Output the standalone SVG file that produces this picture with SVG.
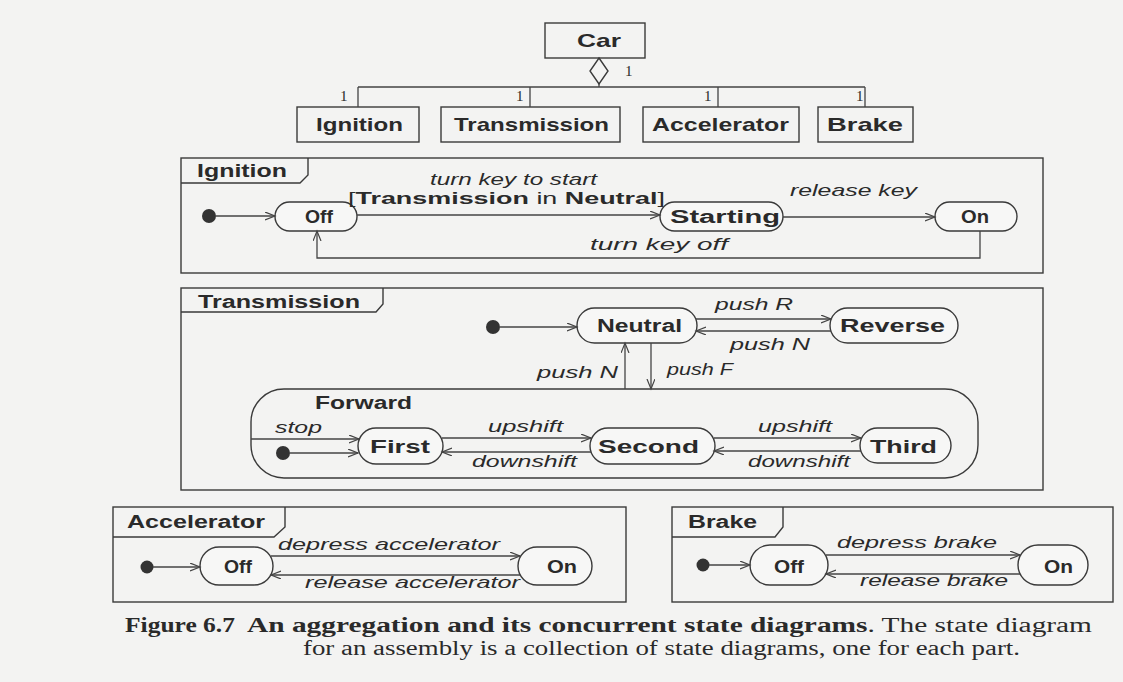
<svg xmlns="http://www.w3.org/2000/svg" width="1123" height="682" viewBox="0 0 1123 682">
<style>
.bg{fill:#f3f3f2}
.box{fill:none;stroke:#3a3a3a;stroke-width:1.4}
.st{fill:#f7f7f6;stroke:#3a3a3a;stroke-width:1.4}
.ln{fill:none;stroke:#444;stroke-width:1.3}
.dot{fill:#333}
.nm{font-family:"Liberation Sans",Arial,sans-serif;font-weight:bold;font-size:18px;fill:#2a2a2a}
.cls{font-family:"Liberation Sans",Arial,sans-serif;font-weight:bold;font-size:19px;fill:#2a2a2a}
.lb{font-family:"Liberation Sans",Arial,sans-serif;font-style:italic;font-size:17px;fill:#2a2a2a}
.gd{font-family:"Liberation Sans",Arial,sans-serif;font-size:17px;fill:#2a2a2a}
.one{font-family:"Liberation Serif","Times New Roman",serif;font-size:15px;fill:#2a2a2a}
.cap{font-family:"Liberation Serif","Times New Roman",serif;font-size:20px;fill:#2a2a2a}
</style>
<defs>
<marker id="ar" markerUnits="userSpaceOnUse" markerWidth="12" markerHeight="10" refX="10" refY="4" orient="auto">
<path d="M0,0 L10,4 L0,8" fill="none" stroke="#444" stroke-width="1.2"/>
</marker>
</defs>
<rect class="bg" x="0" y="0" width="1123" height="682"/>

<!-- Class diagram -->
<g id="car">
<rect class="box" x="545" y="23" width="100" height="35"/>
<text class="cls" x="577" y="47" textLength="44" lengthAdjust="spacingAndGlyphs">Car</text>
</g>
<g id="cls-ignition">
<rect class="box" x="297" y="107" width="122" height="35"/>
<text class="cls" x="316" y="131" textLength="87" lengthAdjust="spacingAndGlyphs">Ignition</text>
</g>
<g id="cls-transmission">
<rect class="box" x="441" y="107" width="179" height="35"/>
<text class="cls" x="454" y="131" textLength="155" lengthAdjust="spacingAndGlyphs">Transmission</text>
</g>
<g id="cls-accelerator">
<rect class="box" x="643" y="107" width="156" height="35"/>
<text class="cls" x="652" y="131" textLength="137" lengthAdjust="spacingAndGlyphs">Accelerator</text>
</g>
<g id="cls-brake">
<rect class="box" x="818" y="107" width="95" height="35"/>
<text class="cls" x="827" y="131" textLength="76" lengthAdjust="spacingAndGlyphs">Brake</text>
</g>

<!-- Ignition state diagram -->
<g id="ignition-frame">
<rect class="box" x="181" y="158" width="862" height="115"/>
<path class="box" d="M181,183 H300 L308,175 V158"/>
<text class="nm" x="197" y="177" textLength="90" lengthAdjust="spacingAndGlyphs">Ignition</text>
</g>
<g id="ign-init"><circle class="dot" cx="209" cy="216" r="7"/></g>
<g id="ign-off">
<rect class="st" x="275" y="202" width="82" height="29" rx="14.5"/>
<text class="nm" x="305" y="223" textLength="28" lengthAdjust="spacingAndGlyphs">Off</text>
</g>
<g id="ign-starting">
<rect class="st" x="660" y="202" width="123" height="29" rx="14.5"/>
<text class="nm" x="670" y="223" textLength="110" lengthAdjust="spacingAndGlyphs">Starting</text>
</g>
<g id="ign-on">
<rect class="st" x="935" y="202" width="82" height="29" rx="14.5"/>
<text class="nm" x="961" y="223" textLength="28" lengthAdjust="spacingAndGlyphs">On</text>
</g>

<!-- Transmission state diagram -->
<g id="transmission-frame">
<rect class="box" x="181" y="288" width="862" height="202"/>
<path class="box" d="M181,312 H376 L383,304 V288"/>
<text class="nm" x="198" y="308" textLength="162" lengthAdjust="spacingAndGlyphs">Transmission</text>
</g>
<g id="tr-init"><circle class="dot" cx="493" cy="327" r="7"/></g>
<g id="tr-neutral">
<rect class="st" x="577" y="308" width="120" height="35" rx="17.5"/>
<text class="nm" x="597" y="332" textLength="85" lengthAdjust="spacingAndGlyphs">Neutral</text>
</g>
<g id="tr-reverse">
<rect class="st" x="830" y="308" width="128" height="35" rx="17.5"/>
<text class="nm" x="840" y="332" textLength="105" lengthAdjust="spacingAndGlyphs">Reverse</text>
</g>
<g id="tr-forward">
<rect class="box" x="251" y="389" width="727" height="89" rx="33"/>
<text class="nm" x="315" y="409" textLength="97" lengthAdjust="spacingAndGlyphs">Forward</text>
</g>
<g id="fw-init"><circle class="dot" cx="283" cy="453" r="7"/></g>
<g id="fw-first">
<rect class="st" x="358" y="428" width="85" height="36" rx="18"/>
<text class="nm" x="370" y="453" textLength="60" lengthAdjust="spacingAndGlyphs">First</text>
</g>
<g id="fw-second">
<rect class="st" x="590" y="428" width="125" height="36" rx="18"/>
<text class="nm" x="598" y="453" textLength="101" lengthAdjust="spacingAndGlyphs">Second</text>
</g>
<g id="fw-third">
<rect class="st" x="860" y="428" width="91" height="35" rx="17.5"/>
<text class="nm" x="870" y="453" textLength="67" lengthAdjust="spacingAndGlyphs">Third</text>
</g>

<!-- Accelerator state diagram -->
<g id="accelerator-frame">
<rect class="box" x="113" y="507" width="513" height="95"/>
<path class="box" d="M113,537 H274 L285,527 V507"/>
<text class="nm" x="127" y="528" textLength="138" lengthAdjust="spacingAndGlyphs">Accelerator</text>
</g>
<g id="acc-init"><circle class="dot" cx="147" cy="567" r="6.5"/></g>
<g id="acc-off">
<rect class="st" x="200" y="547" width="73" height="38" rx="19"/>
<text class="nm" x="224" y="573" textLength="28" lengthAdjust="spacingAndGlyphs">Off</text>
</g>
<g id="acc-on">
<rect class="st" x="518" y="547" width="74" height="38" rx="19"/>
<text class="nm" x="547" y="573" textLength="30" lengthAdjust="spacingAndGlyphs">On</text>
</g>

<!-- Brake state diagram -->
<g id="brake-frame">
<rect class="box" x="672" y="507" width="441" height="95"/>
<path class="box" d="M672,537 H775 L783,527 V507"/>
<text class="nm" x="688" y="528" textLength="69" lengthAdjust="spacingAndGlyphs">Brake</text>
</g>
<g id="brk-init"><circle class="dot" cx="703" cy="565" r="6.5"/></g>
<g id="brk-off">
<rect class="st" x="750" y="545" width="78" height="40" rx="20"/>
<text class="nm" x="774" y="573" textLength="30" lengthAdjust="spacingAndGlyphs">Off</text>
</g>
<g id="brk-on">
<rect class="st" x="1018" y="545" width="70" height="40" rx="20"/>
<text class="nm" x="1044" y="573" textLength="29" lengthAdjust="spacingAndGlyphs">On</text>
</g>

<!-- Connectors -->
<g id="connectors">
<!-- aggregation -->
<path class="box" d="M599,58 L608,71 L599,84 L590,71 Z" fill="#f3f3f2"/>
<path class="ln" d="M599,84 V87 M358,87 H865 M358,87 V107 M530,87 V107 M718,87 V107 M865,87 V107"/>
<!-- ignition -->
<line class="ln" x1="216" y1="216" x2="275" y2="216" marker-end="url(#ar)"/>
<line class="ln" x1="357" y1="215" x2="660" y2="215" marker-end="url(#ar)"/>
<line class="ln" x1="783" y1="217" x2="935" y2="217" marker-end="url(#ar)"/>
<path class="ln" d="M980,231 V258 H317 V231" marker-end="url(#ar)"/>
<!-- transmission -->
<line class="ln" x1="500" y1="327" x2="577" y2="327" marker-end="url(#ar)"/>
<line class="ln" x1="696" y1="319" x2="831" y2="319" marker-end="url(#ar)"/>
<line class="ln" x1="831" y1="331" x2="696" y2="331" marker-end="url(#ar)"/>
<line class="ln" x1="625" y1="389" x2="625" y2="343" marker-end="url(#ar)"/>
<line class="ln" x1="651" y1="343" x2="651" y2="389" marker-end="url(#ar)"/>
<line class="ln" x1="251" y1="439" x2="359" y2="439" marker-end="url(#ar)"/>
<line class="ln" x1="290" y1="453" x2="358" y2="453" marker-end="url(#ar)"/>
<line class="ln" x1="442" y1="438" x2="591" y2="438" marker-end="url(#ar)"/>
<line class="ln" x1="591" y1="452" x2="442" y2="452" marker-end="url(#ar)"/>
<line class="ln" x1="714" y1="438" x2="861" y2="438" marker-end="url(#ar)"/>
<line class="ln" x1="861" y1="451" x2="714" y2="451" marker-end="url(#ar)"/>
<!-- accelerator -->
<line class="ln" x1="153" y1="567" x2="200" y2="567" marker-end="url(#ar)"/>
<line class="ln" x1="271" y1="556" x2="520" y2="556" marker-end="url(#ar)"/>
<line class="ln" x1="520" y1="575" x2="271" y2="575" marker-end="url(#ar)"/>
<!-- brake -->
<line class="ln" x1="709" y1="565" x2="750" y2="565" marker-end="url(#ar)"/>
<line class="ln" x1="826" y1="555" x2="1020" y2="555" marker-end="url(#ar)"/>
<line class="ln" x1="1020" y1="574" x2="826" y2="574" marker-end="url(#ar)"/>
</g>

<!-- Connector labels -->
<g id="labels">
<text class="one" x="625" y="76">1</text>
<text class="one" x="340" y="101">1</text>
<text class="one" x="516" y="101">1</text>
<text class="one" x="704" y="101">1</text>
<text class="one" x="856" y="101">1</text>
<text class="lb" x="430" y="185" textLength="167" lengthAdjust="spacingAndGlyphs">turn key to start</text>
<text class="gd" x="348" y="204" textLength="317" lengthAdjust="spacingAndGlyphs">[<tspan font-weight="bold">Transmission</tspan> in <tspan font-weight="bold">Neutral</tspan>]</text>
<text class="lb" x="790" y="196" textLength="127" lengthAdjust="spacingAndGlyphs">release key</text>
<text class="lb" x="590" y="250" textLength="138" lengthAdjust="spacingAndGlyphs">turn key off</text>
<text class="lb" x="715" y="310" textLength="78" lengthAdjust="spacingAndGlyphs">push R</text>
<text class="lb" x="730" y="350" textLength="80" lengthAdjust="spacingAndGlyphs">push N</text>
<text class="lb" x="537" y="378" textLength="81" lengthAdjust="spacingAndGlyphs">push N</text>
<text class="lb" x="667" y="375" textLength="66" lengthAdjust="spacingAndGlyphs">push F</text>
<text class="lb" x="275" y="433" textLength="47" lengthAdjust="spacingAndGlyphs">stop</text>
<text class="lb" x="488" y="432" textLength="75" lengthAdjust="spacingAndGlyphs">upshift</text>
<text class="lb" x="472" y="467" textLength="105" lengthAdjust="spacingAndGlyphs">downshift</text>
<text class="lb" x="758" y="432" textLength="74" lengthAdjust="spacingAndGlyphs">upshift</text>
<text class="lb" x="748" y="467" textLength="102" lengthAdjust="spacingAndGlyphs">downshift</text>
<text class="lb" x="278" y="550" textLength="222" lengthAdjust="spacingAndGlyphs">depress accelerator</text>
<text class="lb" x="305" y="588" textLength="215" lengthAdjust="spacingAndGlyphs">release accelerator</text>
<text class="lb" x="837" y="548" textLength="160" lengthAdjust="spacingAndGlyphs">depress brake</text>
<text class="lb" x="860" y="586" textLength="148" lengthAdjust="spacingAndGlyphs">release brake</text>
</g>

<!-- Caption -->
<g id="caption">
<text class="cap" x="125" y="632" font-weight="bold" textLength="110" lengthAdjust="spacingAndGlyphs">Figure 6.7</text>
<text class="cap" x="247" y="632" textLength="845" lengthAdjust="spacingAndGlyphs"><tspan font-weight="bold">An aggregation and its concurrent state diagrams</tspan>. The state diagram</text>
<text class="cap" x="303" y="655" textLength="717" lengthAdjust="spacingAndGlyphs">for an assembly is a collection of state diagrams, one for each part.</text>
</g>
</svg>
